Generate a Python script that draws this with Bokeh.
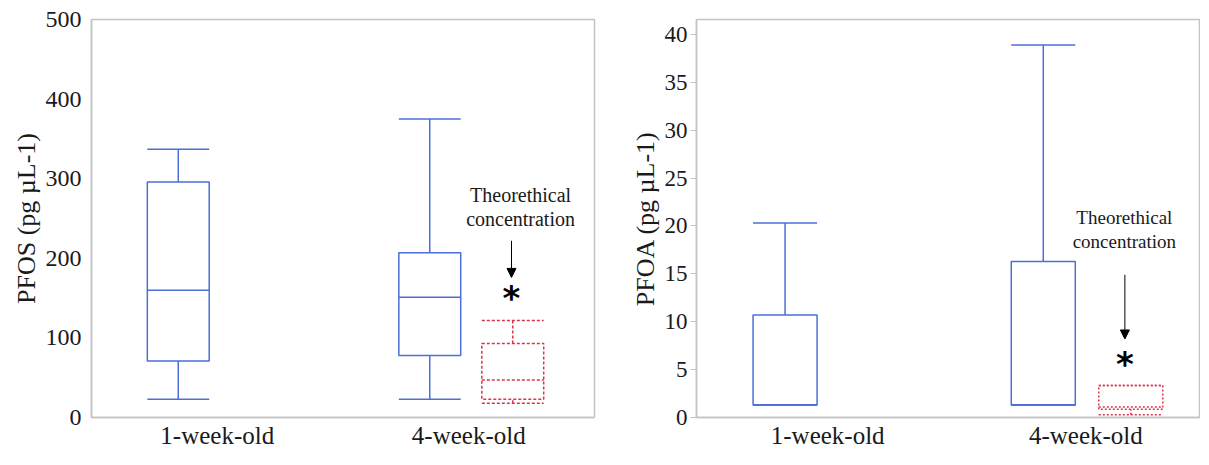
from bokeh.plotting import figure
from bokeh.layouts import row
from bokeh.models import Range1d, FixedTicker, Arrow, NormalHead
from bokeh.core.properties import value
from bokeh.embed import file_html
from bokeh.resources import INLINE

# ---------------- data ----------------
groups = ["1-week-old", "4-week-old"]
group_pos = [1, 2]

# PFOS measured (both ages)
pfos_low = [23, 23]
pfos_q1 = [71, 78]
pfos_med = [160, 151]
pfos_q3 = [296, 207]
pfos_high = [337, 375]
# PFOS theoretical (4-week-old only)
pfos_th_pos = [2]
pfos_th_low = [18]
pfos_th_q1 = [23]
pfos_th_med = [47]
pfos_th_q3 = [93]
pfos_th_high = [122]

# PFOA measured
pfoa_low = [1.3, 1.3]
pfoa_q1 = [1.3, 1.3]
pfoa_med = [1.3, 1.3]
pfoa_q3 = [10.7, 16.3]
pfoa_high = [20.3, 38.9]
# PFOA theoretical
pfoa_th_pos = [2]
pfoa_th_low = [0.3]
pfoa_th_q1 = [0.85]
pfoa_th_med = [1.1]
pfoa_th_q3 = [3.35]
pfoa_th_high = [3.35]

pfos_ticks = [0, 100, 200, 300, 400, 500]
pfoa_ticks = [0, 5, 10, 15, 20, 25, 30, 35, 40]

BLUE = "#4a6fd8"
RED = "#d9364a"
GRAY = "#c4c4c4"
SERIF = "Liberation Serif"
TICKFONT = "Times"


def boxes(p, pos, low, q1, med, q3, high, offset, width, color, dash="solid", lw=1.5):
    xs = [x + offset for x in pos]
    left = [x - width / 2 for x in xs]
    right = [x + width / 2 for x in xs]
    p.quad(left=left, right=right, bottom=q1, top=q3, fill_color=None,
           line_color=color, line_width=lw, line_dash=dash)
    p.segment(x0=left, x1=right, y0=med, y1=med, line_color=color, line_width=lw, line_dash=dash)
    p.segment(x0=xs, x1=xs, y0=q3, y1=high, line_color=color, line_width=lw, line_dash=dash)
    p.segment(x0=xs, x1=xs, y0=low, y1=q1, line_color=color, line_width=lw, line_dash=dash)
    p.segment(x0=left, x1=right, y0=high, y1=high, line_color=color, line_width=lw, line_dash=dash)
    p.segment(x0=left, x1=right, y0=low, y1=low, line_color=color, line_width=lw, line_dash=dash)


def style(p, ylabel, ticks, tick_font, label_standoff, show_ticks):
    p.xaxis.ticker = FixedTicker(ticks=group_pos)
    p.xaxis.major_label_overrides = {1: groups[0], 2: groups[1]}
    p.yaxis.ticker = FixedTicker(ticks=ticks)
    for ax in p.xaxis + p.yaxis:
        ax.axis_line_color = GRAY
        ax.axis_line_width = 1.5
        ax.minor_tick_line_color = None
        ax.minor_tick_out = 0
        ax.minor_tick_in = 0
        ax.major_label_text_font = TICKFONT
        ax.major_label_text_color = "#1a1a1a"
    xa = p.xaxis[0]
    xa.major_tick_line_color = None
    xa.major_tick_out = 0
    xa.major_tick_in = 0
    xa.major_label_text_font_size = "25px"
    xa.major_label_standoff = 4
    ya = p.yaxis[0]
    ya.major_label_text_font_size = tick_font
    if show_ticks:
        ya.major_tick_line_color = GRAY
        ya.major_tick_out = 6
        ya.major_tick_in = 0
        ya.major_label_standoff = 3
    else:
        ya.major_tick_line_color = None
        ya.major_tick_out = 0
        ya.major_tick_in = 0
        ya.major_label_standoff = 10
    ya.axis_label = ylabel
    ya.axis_label_text_font = SERIF
    ya.axis_label_text_font_size = "26px"
    ya.axis_label_text_font_style = "normal"
    ya.axis_label_text_color = "#1a1a1a"
    ya.axis_label_standoff = label_standoff
    p.xgrid.grid_line_color = None
    p.ygrid.grid_line_color = None
    p.outline_line_color = GRAY
    p.outline_line_width = 1.5


# ---------------- left: PFOS ----------------
p1 = figure(width=627, height=457, x_range=Range1d(0.5, 2.5), y_range=Range1d(0, 500),
            output_backend="svg", toolbar_location=None,
            min_border_left=91, min_border_right=33, min_border_top=19, min_border_bottom=40)
style(p1, "PFOS (pg µL-1)", pfos_ticks, "24px", 2, False)
boxes(p1, group_pos, pfos_low, pfos_q1, pfos_med, pfos_q3, pfos_high, -0.155, 0.246, BLUE)
boxes(p1, pfos_th_pos, pfos_th_low, pfos_th_q1, pfos_th_med, pfos_th_q3, pfos_th_high,
      0.175, 0.246, RED, dash="3 2", lw=1.5)
p1.text(x=[2.206, 2.206], y=[279, 250], text=["Theorethical", "concentration"],
        text_font=value(SERIF), text_font_size="20px", text_align="center",
        text_baseline="middle", text_color="#1a1a1a")
p1.add_layout(Arrow(end=NormalHead(size=9, fill_color="black", line_color="black"),
                    x_start=2.17, y_start=222, x_end=2.17, y_end=176,
                    line_color="black", line_width=1))
p1.text(x=[2.17], y=[150], text=["*"], text_font=value("DejaVu Sans"),
        text_font_size="34px", text_font_style="bold", text_align="center",
        text_baseline="middle", text_color="black")

# ---------------- right: PFOA ----------------
p2 = figure(width=573, height=457, x_range=Range1d(0.492, 2.44), y_range=Range1d(0, 41.56),
            output_backend="svg", toolbar_location=None,
            min_border_left=69, min_border_right=1, min_border_top=17, min_border_bottom=40)
style(p2, "PFOA (pg µL-1)", pfoa_ticks, "23px", 2, True)
boxes(p2, group_pos, pfoa_low, pfoa_q1, pfoa_med, pfoa_q3, pfoa_high, -0.165, 0.248, BLUE)
boxes(p2, pfoa_th_pos, pfoa_th_low, pfoa_th_q1, pfoa_th_med, pfoa_th_q3, pfoa_th_high,
      0.174, 0.248, RED, dash="2 2", lw=1.5)
p2.text(x=[2.149, 2.149], y=[20.9, 18.4], text=["Theorethical", "concentration"],
        text_font=value(SERIF), text_font_size="19px", text_align="center",
        text_baseline="middle", text_color="#1a1a1a")
p2.add_layout(Arrow(end=NormalHead(size=9, fill_color="black", line_color="black"),
                    x_start=2.151, y_start=14.9, x_end=2.151, y_end=8.2,
                    line_color="black", line_width=1))
p2.text(x=[2.151], y=[5.6], text=["*"], text_font=value("DejaVu Sans"),
        text_font_size="34px", text_font_style="bold", text_align="center",
        text_baseline="middle", text_color="black")

layout = row(p1, p2)
open("out.html", "w").write(file_html(layout, INLINE))
